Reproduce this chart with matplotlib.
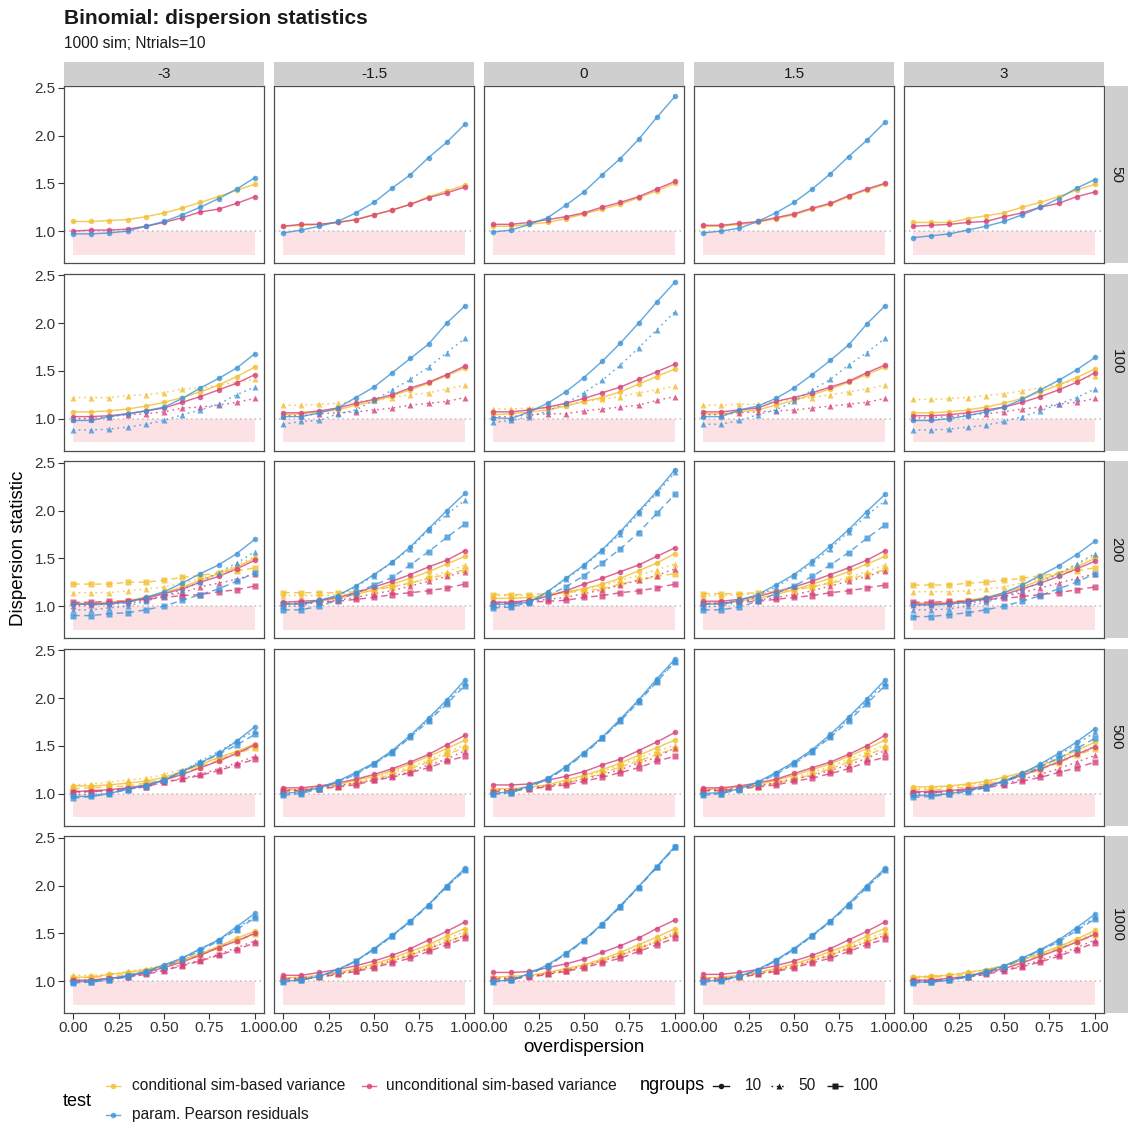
import matplotlib
matplotlib.use('Agg')
import matplotlib.pyplot as plt

plt.rcParams['font.family'] = ['Liberation Sans', 'DejaVu Sans']

# ---------------- data ----------------
overdispersion = [0.0, 0.1, 0.2, 0.3, 0.4, 0.5, 0.6, 0.7, 0.8, 0.9, 1.0]
col_labels = ['-3', '-1.5', '0', '1.5', '3']
row_labels = ['50', '100', '200', '500', '1000']
test_labels = ['conditional sim-based variance', 'unconditional sim-based variance',
               'param. Pearson residuals']
test_keys = ['c', 'u', 'p']
ngroups_levels = [10, 50, 100]
x_ticks = [0.0, 0.25, 0.5, 0.75, 1.0]
x_ticklabels = ['0.00', '0.25', '0.50', '0.75', '1.00']
y_ticks = [1.0, 1.5, 2.0, 2.5]
y_ticklabels = ['1.0', '1.5', '2.0', '2.5']

# keys: test letter + ngroups
P50_m3 = dict(
    c10=[1.10, 1.10, 1.11, 1.12, 1.15, 1.19, 1.24, 1.30, 1.36, 1.43, 1.49],
    u10=[1.00, 1.01, 1.01, 1.02, 1.05, 1.09, 1.14, 1.20, 1.23, 1.29, 1.36],
    p10=[0.97, 0.97, 0.98, 1.00, 1.05, 1.10, 1.17, 1.25, 1.34, 1.44, 1.56])
P50_m15 = dict(
    c10=[1.05, 1.06, 1.07, 1.09, 1.12, 1.17, 1.22, 1.28, 1.36, 1.42, 1.48],
    u10=[1.05, 1.07, 1.07, 1.09, 1.12, 1.17, 1.22, 1.28, 1.35, 1.40, 1.46],
    p10=[0.98, 1.01, 1.05, 1.10, 1.19, 1.30, 1.45, 1.59, 1.77, 1.93, 2.12])
P50_0 = dict(
    c10=[1.05, 1.05, 1.07, 1.09, 1.13, 1.18, 1.23, 1.28, 1.35, 1.42, 1.50],
    u10=[1.07, 1.07, 1.09, 1.12, 1.15, 1.19, 1.25, 1.30, 1.36, 1.44, 1.52],
    p10=[0.99, 1.01, 1.07, 1.14, 1.27, 1.41, 1.59, 1.76, 1.96, 2.19, 2.41])
P50_15 = dict(
    c10=[1.05, 1.05, 1.07, 1.09, 1.13, 1.17, 1.23, 1.28, 1.36, 1.43, 1.49],
    u10=[1.06, 1.06, 1.08, 1.10, 1.14, 1.18, 1.24, 1.29, 1.37, 1.44, 1.50],
    p10=[0.98, 1.00, 1.03, 1.10, 1.19, 1.30, 1.44, 1.60, 1.78, 1.95, 2.14])
P50_3 = dict(
    c10=[1.09, 1.09, 1.09, 1.13, 1.16, 1.19, 1.25, 1.30, 1.36, 1.43, 1.49],
    u10=[1.05, 1.06, 1.07, 1.09, 1.10, 1.15, 1.19, 1.25, 1.29, 1.36, 1.41],
    p10=[0.93, 0.95, 0.97, 1.01, 1.05, 1.10, 1.17, 1.25, 1.34, 1.45, 1.54])

P100_m3 = dict(
    c10=[1.07, 1.07, 1.08, 1.10, 1.13, 1.17, 1.22, 1.28, 1.35, 1.44, 1.54],
    u10=[1.02, 1.02, 1.03, 1.05, 1.08, 1.11, 1.17, 1.23, 1.30, 1.37, 1.46],
    p10=[0.98, 0.98, 1.02, 1.05, 1.08, 1.12, 1.21, 1.32, 1.42, 1.53, 1.68],
    c50=[1.22, 1.22, 1.22, 1.24, 1.25, 1.27, 1.31, 1.32, 1.35, 1.38, 1.41],
    u50=[1.00, 1.00, 1.02, 1.04, 1.05, 1.07, 1.11, 1.12, 1.14, 1.17, 1.21],
    p50=[0.88, 0.88, 0.89, 0.91, 0.94, 0.98, 1.04, 1.09, 1.15, 1.25, 1.33])
P100_m15 = dict(
    c10=[1.04, 1.05, 1.07, 1.09, 1.14, 1.18, 1.24, 1.30, 1.37, 1.45, 1.53],
    u10=[1.06, 1.06, 1.08, 1.11, 1.16, 1.20, 1.25, 1.32, 1.38, 1.46, 1.55],
    p10=[1.02, 1.02, 1.06, 1.11, 1.22, 1.33, 1.48, 1.63, 1.78, 2.00, 2.18],
    c50=[1.14, 1.14, 1.15, 1.16, 1.18, 1.19, 1.22, 1.25, 1.27, 1.31, 1.35],
    u50=[1.03, 1.03, 1.05, 1.06, 1.07, 1.09, 1.11, 1.14, 1.16, 1.18, 1.22],
    p50=[0.94, 0.97, 0.98, 1.05, 1.09, 1.19, 1.30, 1.41, 1.54, 1.69, 1.84])
P100_0 = dict(
    c10=[1.04, 1.05, 1.07, 1.09, 1.13, 1.18, 1.22, 1.28, 1.36, 1.44, 1.52],
    u10=[1.07, 1.07, 1.09, 1.12, 1.16, 1.21, 1.27, 1.33, 1.41, 1.49, 1.57],
    p10=[1.01, 1.00, 1.07, 1.16, 1.28, 1.43, 1.60, 1.79, 2.00, 2.22, 2.43],
    c50=[1.10, 1.10, 1.11, 1.11, 1.14, 1.18, 1.20, 1.23, 1.27, 1.30, 1.34],
    u50=[1.02, 1.02, 1.04, 1.05, 1.05, 1.08, 1.10, 1.12, 1.14, 1.19, 1.23],
    p50=[0.96, 0.98, 1.02, 1.08, 1.16, 1.27, 1.40, 1.56, 1.74, 1.93, 2.12])
P100_15 = dict(
    c10=[1.05, 1.05, 1.07, 1.09, 1.14, 1.19, 1.25, 1.31, 1.38, 1.46, 1.54],
    u10=[1.07, 1.07, 1.09, 1.11, 1.18, 1.22, 1.27, 1.33, 1.39, 1.48, 1.56],
    p10=[1.02, 1.02, 1.09, 1.13, 1.21, 1.32, 1.46, 1.61, 1.77, 1.99, 2.18],
    c50=[1.14, 1.14, 1.15, 1.15, 1.18, 1.20, 1.22, 1.25, 1.28, 1.31, 1.35],
    u50=[1.04, 1.04, 1.06, 1.07, 1.08, 1.09, 1.11, 1.13, 1.15, 1.17, 1.21],
    p50=[0.94, 0.94, 0.98, 1.04, 1.09, 1.18, 1.30, 1.41, 1.56, 1.69, 1.84])
P100_3 = dict(
    c10=[1.06, 1.06, 1.07, 1.09, 1.12, 1.16, 1.21, 1.28, 1.35, 1.43, 1.52],
    u10=[1.03, 1.03, 1.04, 1.06, 1.09, 1.12, 1.17, 1.23, 1.30, 1.38, 1.48],
    p10=[0.98, 0.98, 1.00, 1.03, 1.07, 1.12, 1.20, 1.30, 1.40, 1.51, 1.64],
    c50=[1.20, 1.20, 1.21, 1.22, 1.24, 1.26, 1.29, 1.32, 1.36, 1.40, 1.45],
    u50=[1.01, 1.01, 1.02, 1.04, 1.05, 1.07, 1.10, 1.12, 1.15, 1.17, 1.21],
    p50=[0.88, 0.88, 0.89, 0.91, 0.93, 0.97, 1.02, 1.08, 1.15, 1.22, 1.31])

P200_m3 = dict(
    c10=[1.03, 1.03, 1.04, 1.06, 1.09, 1.14, 1.20, 1.27, 1.34, 1.41, 1.50],
    u10=[1.02, 1.02, 1.03, 1.05, 1.08, 1.13, 1.18, 1.25, 1.31, 1.39, 1.48],
    p10=[1.02, 1.02, 1.02, 1.04, 1.09, 1.15, 1.24, 1.34, 1.43, 1.55, 1.70],
    c50=[1.14, 1.14, 1.14, 1.16, 1.18, 1.20, 1.24, 1.29, 1.34, 1.43, 1.52],
    u50=[1.00, 1.01, 1.02, 1.03, 1.06, 1.11, 1.14, 1.20, 1.24, 1.28, 1.34],
    p50=[0.96, 0.96, 0.98, 1.00, 1.05, 1.11, 1.17, 1.25, 1.35, 1.45, 1.57],
    c100=[1.23, 1.23, 1.23, 1.25, 1.25, 1.27, 1.30, 1.32, 1.35, 1.37, 1.40],
    u100=[1.04, 1.04, 1.05, 1.05, 1.07, 1.09, 1.11, 1.12, 1.15, 1.17, 1.21],
    p100=[0.90, 0.90, 0.92, 0.93, 0.96, 1.00, 1.06, 1.12, 1.18, 1.26, 1.35])
P200_m15 = dict(
    c10=[1.02, 1.03, 1.05, 1.08, 1.12, 1.17, 1.23, 1.29, 1.36, 1.44, 1.52],
    u10=[1.04, 1.05, 1.06, 1.09, 1.14, 1.20, 1.26, 1.33, 1.41, 1.48, 1.58],
    p10=[1.02, 1.02, 1.06, 1.11, 1.21, 1.33, 1.46, 1.62, 1.81, 2.00, 2.18],
    c50=[1.11, 1.11, 1.11, 1.12, 1.14, 1.17, 1.20, 1.24, 1.30, 1.36, 1.43],
    u50=[1.03, 1.03, 1.04, 1.06, 1.09, 1.13, 1.16, 1.21, 1.26, 1.31, 1.36],
    p50=[1.00, 1.00, 1.05, 1.11, 1.20, 1.32, 1.46, 1.60, 1.80, 1.96, 2.11],
    c100=[1.14, 1.14, 1.14, 1.14, 1.15, 1.17, 1.20, 1.24, 1.29, 1.33, 1.38],
    u100=[1.02, 1.03, 1.04, 1.05, 1.07, 1.09, 1.12, 1.14, 1.16, 1.19, 1.23],
    p100=[0.96, 0.96, 1.00, 1.06, 1.14, 1.22, 1.30, 1.43, 1.57, 1.72, 1.86])
P200_0 = dict(
    c10=[1.08, 1.08, 1.09, 1.11, 1.15, 1.18, 1.23, 1.29, 1.37, 1.45, 1.55],
    u10=[1.04, 1.04, 1.06, 1.10, 1.16, 1.23, 1.29, 1.36, 1.43, 1.52, 1.61],
    p10=[1.02, 1.02, 1.04, 1.15, 1.29, 1.43, 1.59, 1.78, 1.99, 2.20, 2.43],
    c50=[1.11, 1.11, 1.11, 1.13, 1.14, 1.18, 1.21, 1.27, 1.32, 1.38, 1.44],
    u50=[1.04, 1.04, 1.05, 1.07, 1.09, 1.13, 1.17, 1.22, 1.27, 1.32, 1.39],
    p50=[1.00, 1.00, 1.03, 1.15, 1.28, 1.42, 1.58, 1.76, 1.97, 2.18, 2.40],
    c100=[1.12, 1.12, 1.12, 1.13, 1.14, 1.16, 1.18, 1.23, 1.27, 1.31, 1.34],
    u100=[1.02, 1.03, 1.04, 1.05, 1.06, 1.09, 1.11, 1.14, 1.16, 1.19, 1.23],
    p100=[0.98, 0.99, 1.04, 1.11, 1.20, 1.32, 1.45, 1.60, 1.77, 1.97, 2.17])
P200_15 = dict(
    c10=[1.03, 1.03, 1.05, 1.08, 1.12, 1.17, 1.23, 1.29, 1.36, 1.44, 1.52],
    u10=[1.05, 1.05, 1.07, 1.10, 1.15, 1.20, 1.26, 1.33, 1.40, 1.48, 1.58],
    p10=[1.02, 1.02, 1.06, 1.12, 1.22, 1.33, 1.47, 1.63, 1.80, 1.99, 2.17],
    c50=[1.11, 1.11, 1.12, 1.13, 1.15, 1.17, 1.20, 1.25, 1.30, 1.36, 1.43],
    u50=[1.03, 1.03, 1.05, 1.06, 1.09, 1.12, 1.16, 1.21, 1.26, 1.31, 1.37],
    p50=[0.99, 1.00, 1.04, 1.10, 1.20, 1.31, 1.45, 1.60, 1.78, 1.95, 2.10],
    c100=[1.13, 1.13, 1.13, 1.14, 1.15, 1.17, 1.20, 1.24, 1.28, 1.33, 1.38],
    u100=[1.02, 1.03, 1.04, 1.05, 1.07, 1.09, 1.11, 1.14, 1.16, 1.19, 1.22],
    p100=[0.96, 0.96, 0.99, 1.05, 1.13, 1.21, 1.31, 1.43, 1.56, 1.71, 1.85])
P200_3 = dict(
    c10=[1.03, 1.03, 1.04, 1.06, 1.09, 1.14, 1.20, 1.27, 1.34, 1.41, 1.50],
    u10=[1.02, 1.02, 1.03, 1.05, 1.08, 1.12, 1.18, 1.24, 1.31, 1.39, 1.47],
    p10=[1.01, 1.01, 1.02, 1.04, 1.08, 1.14, 1.22, 1.32, 1.42, 1.54, 1.68],
    c50=[1.15, 1.15, 1.15, 1.16, 1.18, 1.20, 1.24, 1.29, 1.35, 1.43, 1.53],
    u50=[1.01, 1.01, 1.02, 1.03, 1.06, 1.10, 1.14, 1.19, 1.24, 1.29, 1.34],
    p50=[0.96, 0.96, 0.97, 1.00, 1.04, 1.10, 1.17, 1.25, 1.34, 1.44, 1.55],
    c100=[1.22, 1.22, 1.22, 1.24, 1.25, 1.27, 1.29, 1.32, 1.34, 1.37, 1.40],
    u100=[1.04, 1.04, 1.05, 1.05, 1.07, 1.08, 1.10, 1.12, 1.14, 1.17, 1.20],
    p100=[0.89, 0.89, 0.91, 0.93, 0.96, 1.00, 1.05, 1.11, 1.18, 1.25, 1.34])

P500_m3 = dict(
    c10=[1.08, 1.08, 1.09, 1.11, 1.13, 1.17, 1.23, 1.30, 1.38, 1.44, 1.52],
    u10=[1.02, 1.03, 1.04, 1.06, 1.09, 1.14, 1.20, 1.27, 1.34, 1.42, 1.51],
    p10=[0.97, 0.97, 1.00, 1.05, 1.08, 1.14, 1.23, 1.32, 1.42, 1.55, 1.70],
    c50=[1.09, 1.10, 1.12, 1.14, 1.16, 1.20, 1.25, 1.32, 1.37, 1.43, 1.50],
    u50=[1.01, 1.02, 1.03, 1.05, 1.07, 1.12, 1.16, 1.20, 1.26, 1.32, 1.39],
    p50=[0.99, 0.99, 1.01, 1.04, 1.09, 1.14, 1.24, 1.34, 1.44, 1.55, 1.66],
    c100=[1.05, 1.06, 1.07, 1.08, 1.11, 1.15, 1.21, 1.28, 1.35, 1.42, 1.48],
    u100=[1.02, 1.02, 1.03, 1.05, 1.07, 1.12, 1.15, 1.19, 1.24, 1.30, 1.36],
    p100=[0.95, 0.97, 1.00, 1.04, 1.08, 1.14, 1.23, 1.32, 1.41, 1.51, 1.62])
P500_m15 = dict(
    c10=[1.04, 1.04, 1.07, 1.09, 1.14, 1.18, 1.24, 1.31, 1.39, 1.47, 1.56],
    u10=[1.06, 1.06, 1.08, 1.11, 1.15, 1.20, 1.26, 1.33, 1.41, 1.51, 1.61],
    p10=[1.00, 1.02, 1.06, 1.13, 1.22, 1.32, 1.45, 1.61, 1.79, 1.98, 2.19],
    c50=[1.03, 1.03, 1.06, 1.08, 1.12, 1.16, 1.22, 1.28, 1.35, 1.43, 1.51],
    u50=[1.04, 1.04, 1.06, 1.08, 1.11, 1.14, 1.18, 1.23, 1.30, 1.36, 1.45],
    p50=[0.99, 1.01, 1.05, 1.12, 1.21, 1.31, 1.44, 1.60, 1.77, 1.96, 2.16],
    c100=[1.02, 1.03, 1.05, 1.07, 1.11, 1.15, 1.20, 1.26, 1.33, 1.41, 1.48],
    u100=[1.03, 1.03, 1.05, 1.07, 1.09, 1.14, 1.17, 1.22, 1.27, 1.34, 1.39],
    p100=[0.98, 1.00, 1.05, 1.12, 1.20, 1.31, 1.43, 1.59, 1.76, 1.94, 2.13])
P500_0 = dict(
    c10=[1.05, 1.05, 1.07, 1.09, 1.14, 1.19, 1.25, 1.32, 1.40, 1.48, 1.56],
    u10=[1.09, 1.09, 1.10, 1.14, 1.18, 1.23, 1.30, 1.36, 1.45, 1.54, 1.64],
    p10=[1.00, 1.02, 1.08, 1.16, 1.28, 1.43, 1.59, 1.78, 1.98, 2.20, 2.41],
    c50=[1.04, 1.04, 1.06, 1.08, 1.12, 1.18, 1.23, 1.30, 1.37, 1.44, 1.51],
    u50=[1.04, 1.04, 1.06, 1.08, 1.11, 1.15, 1.20, 1.25, 1.32, 1.38, 1.48],
    p50=[1.00, 1.01, 1.07, 1.15, 1.27, 1.42, 1.58, 1.77, 1.97, 2.18, 2.39],
    c100=[1.03, 1.03, 1.05, 1.07, 1.11, 1.16, 1.21, 1.28, 1.34, 1.41, 1.47],
    u100=[1.02, 1.03, 1.05, 1.07, 1.09, 1.13, 1.17, 1.22, 1.27, 1.34, 1.39],
    p100=[0.99, 1.01, 1.07, 1.15, 1.27, 1.41, 1.58, 1.76, 1.96, 2.17, 2.38])
P500_15 = dict(
    c10=[1.04, 1.05, 1.07, 1.09, 1.14, 1.19, 1.25, 1.31, 1.39, 1.47, 1.56],
    u10=[1.06, 1.06, 1.08, 1.11, 1.15, 1.21, 1.27, 1.33, 1.41, 1.50, 1.61],
    p10=[1.00, 1.01, 1.05, 1.12, 1.22, 1.33, 1.46, 1.62, 1.80, 1.99, 2.19],
    c50=[1.03, 1.04, 1.06, 1.08, 1.12, 1.17, 1.22, 1.28, 1.36, 1.43, 1.51],
    u50=[1.04, 1.04, 1.06, 1.08, 1.11, 1.15, 1.19, 1.24, 1.30, 1.37, 1.45],
    p50=[0.99, 1.00, 1.05, 1.11, 1.21, 1.32, 1.45, 1.60, 1.78, 1.97, 2.16],
    c100=[1.03, 1.03, 1.05, 1.07, 1.11, 1.15, 1.20, 1.26, 1.33, 1.40, 1.48],
    u100=[1.03, 1.03, 1.05, 1.07, 1.09, 1.13, 1.16, 1.21, 1.26, 1.33, 1.38],
    p100=[0.98, 1.00, 1.04, 1.11, 1.20, 1.31, 1.44, 1.59, 1.76, 1.94, 2.13])
P500_3 = dict(
    c10=[1.07, 1.07, 1.08, 1.10, 1.13, 1.17, 1.22, 1.29, 1.37, 1.45, 1.54],
    u10=[1.02, 1.02, 1.03, 1.05, 1.08, 1.13, 1.19, 1.26, 1.33, 1.41, 1.49],
    p10=[0.98, 0.98, 1.00, 1.03, 1.07, 1.13, 1.21, 1.31, 1.42, 1.54, 1.68],
    c50=[1.05, 1.06, 1.07, 1.09, 1.12, 1.16, 1.21, 1.28, 1.35, 1.42, 1.50],
    u50=[1.01, 1.01, 1.02, 1.04, 1.07, 1.10, 1.15, 1.20, 1.26, 1.33, 1.40],
    p50=[0.99, 0.99, 1.00, 1.03, 1.07, 1.13, 1.21, 1.30, 1.40, 1.52, 1.64],
    c100=[1.04, 1.04, 1.05, 1.07, 1.10, 1.14, 1.19, 1.25, 1.32, 1.40, 1.47],
    u100=[1.01, 1.01, 1.02, 1.04, 1.06, 1.09, 1.13, 1.17, 1.22, 1.27, 1.33],
    p100=[0.96, 0.97, 0.99, 1.02, 1.06, 1.12, 1.19, 1.28, 1.37, 1.47, 1.58])

P1000_m3 = dict(
    c10=[1.04, 1.04, 1.07, 1.09, 1.12, 1.16, 1.22, 1.29, 1.36, 1.45, 1.52],
    u10=[1.01, 1.01, 1.03, 1.05, 1.09, 1.14, 1.20, 1.27, 1.35, 1.42, 1.50],
    p10=[0.99, 1.00, 1.02, 1.06, 1.10, 1.17, 1.24, 1.34, 1.43, 1.57, 1.71],
    c50=[1.06, 1.06, 1.07, 1.10, 1.13, 1.17, 1.22, 1.29, 1.36, 1.43, 1.50],
    u50=[1.00, 1.01, 1.02, 1.04, 1.08, 1.12, 1.17, 1.22, 1.28, 1.35, 1.42],
    p50=[0.99, 0.99, 1.01, 1.05, 1.10, 1.16, 1.24, 1.33, 1.43, 1.55, 1.68],
    c100=[1.03, 1.04, 1.05, 1.07, 1.11, 1.15, 1.21, 1.27, 1.35, 1.42, 1.49],
    u100=[1.00, 1.00, 1.02, 1.04, 1.07, 1.11, 1.16, 1.21, 1.27, 1.33, 1.40],
    p100=[0.98, 0.99, 1.01, 1.05, 1.09, 1.15, 1.23, 1.32, 1.42, 1.54, 1.66])
P1000_m15 = dict(
    c10=[1.03, 1.04, 1.06, 1.09, 1.13, 1.18, 1.24, 1.31, 1.38, 1.47, 1.55],
    u10=[1.06, 1.06, 1.09, 1.12, 1.16, 1.21, 1.27, 1.34, 1.43, 1.52, 1.62],
    p10=[1.00, 1.01, 1.05, 1.12, 1.21, 1.34, 1.48, 1.63, 1.80, 2.00, 2.18],
    c50=[1.02, 1.03, 1.05, 1.08, 1.12, 1.17, 1.22, 1.29, 1.36, 1.44, 1.52],
    u50=[1.03, 1.03, 1.05, 1.08, 1.11, 1.16, 1.21, 1.27, 1.34, 1.41, 1.48],
    p50=[1.00, 1.01, 1.05, 1.12, 1.21, 1.33, 1.47, 1.63, 1.80, 1.99, 2.17],
    c100=[1.02, 1.02, 1.04, 1.07, 1.11, 1.15, 1.21, 1.27, 1.34, 1.41, 1.48],
    u100=[1.02, 1.02, 1.04, 1.07, 1.10, 1.14, 1.19, 1.24, 1.31, 1.38, 1.45],
    p100=[0.99, 1.01, 1.05, 1.11, 1.21, 1.33, 1.47, 1.62, 1.79, 1.99, 2.16])
P1000_0 = dict(
    c10=[1.04, 1.05, 1.06, 1.09, 1.13, 1.17, 1.23, 1.30, 1.38, 1.46, 1.55],
    u10=[1.09, 1.09, 1.10, 1.14, 1.18, 1.23, 1.30, 1.37, 1.45, 1.55, 1.64],
    p10=[1.00, 1.01, 1.08, 1.17, 1.29, 1.43, 1.60, 1.79, 1.99, 2.20, 2.41],
    c50=[1.03, 1.04, 1.05, 1.08, 1.12, 1.16, 1.22, 1.28, 1.35, 1.43, 1.51],
    u50=[1.03, 1.03, 1.05, 1.08, 1.11, 1.16, 1.21, 1.27, 1.34, 1.41, 1.49],
    p50=[1.00, 1.01, 1.07, 1.16, 1.28, 1.43, 1.59, 1.78, 1.99, 2.19, 2.40],
    c100=[1.02, 1.03, 1.05, 1.07, 1.11, 1.15, 1.21, 1.27, 1.34, 1.41, 1.49],
    u100=[1.02, 1.02, 1.04, 1.07, 1.10, 1.14, 1.19, 1.24, 1.31, 1.38, 1.45],
    p100=[0.99, 1.01, 1.07, 1.16, 1.28, 1.42, 1.59, 1.78, 1.98, 2.19, 2.40])
P1000_15 = dict(
    c10=[1.03, 1.04, 1.06, 1.09, 1.13, 1.18, 1.24, 1.31, 1.38, 1.47, 1.55],
    u10=[1.07, 1.07, 1.09, 1.12, 1.16, 1.21, 1.27, 1.34, 1.43, 1.52, 1.62],
    p10=[1.00, 1.01, 1.05, 1.12, 1.22, 1.34, 1.48, 1.63, 1.81, 2.00, 2.18],
    c50=[1.02, 1.03, 1.05, 1.08, 1.12, 1.17, 1.22, 1.29, 1.36, 1.44, 1.51],
    u50=[1.03, 1.03, 1.05, 1.08, 1.11, 1.16, 1.21, 1.27, 1.34, 1.41, 1.48],
    p50=[1.00, 1.01, 1.05, 1.12, 1.21, 1.33, 1.47, 1.63, 1.80, 1.99, 2.17],
    c100=[1.02, 1.02, 1.04, 1.07, 1.11, 1.15, 1.21, 1.27, 1.34, 1.41, 1.48],
    u100=[1.02, 1.02, 1.04, 1.07, 1.10, 1.14, 1.19, 1.24, 1.31, 1.38, 1.44],
    p100=[0.99, 1.00, 1.05, 1.11, 1.21, 1.33, 1.47, 1.62, 1.79, 1.98, 2.16])
P1000_3 = dict(
    c10=[1.04, 1.05, 1.06, 1.09, 1.12, 1.16, 1.22, 1.29, 1.36, 1.44, 1.53],
    u10=[1.01, 1.01, 1.03, 1.05, 1.09, 1.13, 1.19, 1.26, 1.33, 1.41, 1.49],
    p10=[0.99, 0.99, 1.01, 1.05, 1.10, 1.16, 1.24, 1.33, 1.43, 1.56, 1.70],
    c50=[1.05, 1.05, 1.07, 1.09, 1.12, 1.16, 1.22, 1.28, 1.35, 1.43, 1.50],
    u50=[1.00, 1.01, 1.02, 1.04, 1.08, 1.12, 1.16, 1.22, 1.28, 1.35, 1.43],
    p50=[0.99, 0.99, 1.01, 1.05, 1.09, 1.15, 1.23, 1.32, 1.42, 1.54, 1.67],
    c100=[1.03, 1.04, 1.05, 1.07, 1.10, 1.15, 1.20, 1.27, 1.34, 1.41, 1.48],
    u100=[1.00, 1.00, 1.02, 1.04, 1.07, 1.11, 1.15, 1.20, 1.26, 1.33, 1.40],
    p100=[0.98, 0.99, 1.01, 1.04, 1.09, 1.15, 1.23, 1.32, 1.41, 1.53, 1.65])

panel_grid = [
    [P50_m3, P50_m15, P50_0, P50_15, P50_3],
    [P100_m3, P100_m15, P100_0, P100_15, P100_3],
    [P200_m3, P200_m15, P200_0, P200_15, P200_3],
    [P500_m3, P500_m15, P500_0, P500_15, P500_3],
    [P1000_m3, P1000_m15, P1000_0, P1000_15, P1000_3],
]

# ---------------- style ----------------
test_colors = {'c': '#F2BE2E', 'u': '#D6407A', 'p': '#3F95D8'}
ng_style = {10: ('-', 'o', 4.0), 50: ((0, (1.2, 2.6)), '^', 4.4), 100: ((0, (4.5, 3.0)), 's', 3.8)}
rect_color = '#FCE1E5'
strip_color = '#CFCFCF'
ylim = (0.665, 2.52)
xlim = (-0.05, 1.05)

W, H = 1128, 1126
fig = plt.figure(figsize=(W / 100, H / 100), dpi=100)


def px_axes(l, t, w, h, **kw):
    return fig.add_axes([l / W, 1 - (t + h) / H, w / W, h / H], **kw)


col_left = [64, 274, 484, 694, 904]
panel_w = 200
row_top = [86, 273.5, 461, 648.5, 836]
panel_h = 177

for r in range(5):
    for c in range(5):
        ax = px_axes(col_left[c], row_top[r], panel_w, panel_h)
        ax.set_xlim(*xlim)
        ax.set_ylim(*ylim)
        ax.axvspan(0, 1, ymin=(0.75 - ylim[0]) / (ylim[1] - ylim[0]),
                   ymax=(1.0 - ylim[0]) / (ylim[1] - ylim[0]),
                   facecolor=rect_color, edgecolor='none', zorder=1)
        ax.axhline(1.0, color='#BDBDBD', lw=1.1, ls=(0, (1, 2.2)), zorder=1.5)
        pdata = panel_grid[r][c]
        for tk in test_keys:
            for ng in ngroups_levels:
                key = f'{tk}{ng}'
                if key not in pdata:
                    continue
                ls, mk, ms = ng_style[ng]
                ax.plot(overdispersion, pdata[key], color=test_colors[tk], lw=1.05,
                        ls=ls, alpha=0.8, zorder=2)
        for tk in test_keys:
            for ng in ngroups_levels:
                key = f'{tk}{ng}'
                if key not in pdata:
                    continue
                ls, mk, ms = ng_style[ng]
                ax.plot(overdispersion, pdata[key], ls='none', marker=mk, ms=ms,
                        mfc=test_colors[tk], mec='none', alpha=0.8, zorder=3)
        for s in ax.spines.values():
            s.set_color('#4D4D4D')
            s.set_linewidth(0.9)
        ax.set_xticks(x_ticks)
        ax.set_yticks(y_ticks)
        ax.tick_params(length=4, width=0.8, color='#333333', labelsize=11,
                       labelcolor='#333333', pad=2)
        if c == 0:
            ax.set_yticklabels(y_ticklabels)
        else:
            ax.tick_params(axis='y', length=0, labelleft=False)
        if r == 4:
            ax.set_xticklabels(x_ticklabels)
        else:
            ax.tick_params(axis='x', length=0, labelbottom=False)

# strips
for c in range(5):
    sax = px_axes(col_left[c], 62, panel_w, 24)
    sax.set_xlim(0, 1); sax.set_ylim(0, 1)
    sax.set_facecolor(strip_color)
    for s in sax.spines.values():
        s.set_visible(False)
    sax.set_xticks([]); sax.set_yticks([])
    sax.text(0.5, 0.5, col_labels[c], ha='center', va='center', fontsize=11,
             color='#1A1A1A')
for r in range(5):
    sax = px_axes(1105, row_top[r], 23, panel_h)
    sax.set_xlim(0, 1); sax.set_ylim(0, 1)
    sax.set_facecolor(strip_color)
    for s in sax.spines.values():
        s.set_visible(False)
    sax.set_xticks([]); sax.set_yticks([])
    sax.text(0.5, 0.5, row_labels[r], ha='center', va='center', fontsize=11,
             color='#1A1A1A', rotation=-90)

# overlay for titles and legend (pixel coordinates)
ov = fig.add_axes([0, 0, 1, 1], zorder=10)
ov.set_xlim(0, W); ov.set_ylim(H, 0)
ov.axis('off')

ov.text(64, 18, 'Binomial: dispersion statistics', fontsize=15, fontweight='bold',
        ha='left', va='center', color='#1A1A1A')
ov.text(64, 44, '1000 sim; Ntrials=10', fontsize=11.2, ha='left', va='center',
        color='#1A1A1A')
ov.text(584, 1047, 'overdispersion', fontsize=13.5, ha='center', va='center')
ov.text(19, 548, 'Dispersion statistic', fontsize=13.5, ha='center', va='center',
        rotation=90)

# legend: test
ov.text(63, 1101, 'test', fontsize=13, ha='left', va='center')
leg_test_pos = [(113, 1086, 132), (369, 1086, 386), (113, 1115, 132)]
for (kx, ky, tx), tk, lab in zip(leg_test_pos, test_keys, test_labels):
    ov.plot([kx - 7, kx + 7], [ky, ky], color=test_colors[tk], lw=1.0, alpha=0.8)
    ov.plot([kx], [ky], marker='o', ms=4.0, color=test_colors[tk], mec='none', alpha=0.8)
    ov.text(tx, ky, lab, fontsize=11.2, ha='left', va='center', color='#1A1A1A')

# legend: ngroups
ov.text(640, 1086, 'ngroups', fontsize=13, ha='left', va='center')
leg_ng_pos = [(721, 745), (779, 798), (835, 853)]
for (kx, tx), ng in zip(leg_ng_pos, ngroups_levels):
    ls, mk, ms = ng_style[ng]
    ov.plot([kx - 8, kx + 8], [1086, 1086], color='#1A1A1A', lw=1.0, ls=ls)
    ov.plot([kx], [1086], marker=mk, ms=ms, color='#1A1A1A', mec='none')
    ov.text(tx, 1086, str(ng), fontsize=11.2, ha='left', va='center', color='#1A1A1A')

fig.savefig('out.png', dpi=100)
